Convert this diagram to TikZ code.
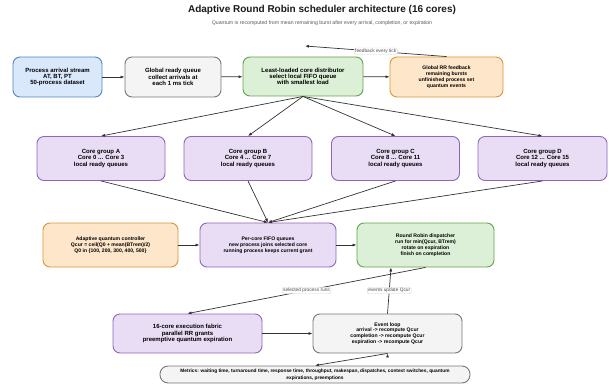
\documentclass[tikz,border=0pt]{standalone}
\usepackage{fontspec}
\setmainfont{Liberation Sans}
\usetikzlibrary{arrows.meta,calc}
\definecolor{blueFill}{HTML}{DAE8FC}
\definecolor{blueLine}{HTML}{4F86C2}
\definecolor{grayFill}{HTML}{F4F4F4}
\definecolor{grayLine}{HTML}{777777}
\definecolor{greenFill}{HTML}{DCEFD7}
\definecolor{greenLine}{HTML}{62A34E}
\definecolor{orangeFill}{HTML}{FDE6C9}
\definecolor{orangeLine}{HTML}{DD9535}
\definecolor{purpleFill}{HTML}{E8DDF4}
\definecolor{purpleLine}{HTML}{9067B8}
\definecolor{edgeCol}{HTML}{333333}
\tikzset{
  box/.style={draw, rounded corners=7pt, line width=0.9pt, align=center, inner sep=0pt,
    font=\fontsize{6}{6.3}\selectfont\bfseries},
  small/.style={font=\fontsize{5.1}{5.8}\selectfont\bfseries},
  srcbox/.style={box, fill=blueFill, draw=blueLine},
  graybox/.style={box, fill=grayFill, draw=grayLine},
  greenbox/.style={box, fill=greenFill, draw=greenLine},
  orangebox/.style={box, fill=orangeFill, draw=orangeLine},
  purplebox/.style={box, fill=purpleFill, draw=purpleLine},
  arr/.style={->, >={Latex[length=4pt,width=3pt]}, draw=edgeCol, line width=0.7pt},
  lbl/.style={fill=white, draw=gray!35, rounded corners=1.5pt, inner sep=1pt,
    line width=0.4pt, text=black!70, font=\fontsize{4.8}{5}\selectfont}
}
\begin{document}
\begin{tikzpicture}[x=1pt, y=-1pt]
\useasboundingbox (0,0) rectangle (609,385);
% title
\node[text=black!90] (title) at (322,10) {\fontsize{10}{11}\selectfont\bfseries Adaptive Round Robin scheduler architecture (16 cores)};
\node[text=black!65] (subtitle) at (322,23) {\fontsize{5.2}{5.5}\selectfont Quantum is recomputed from mean remaining burst after every arrival, completion, or expiration};
% top row
\node[srcbox, minimum width=89pt, minimum height=40pt] (src) at (57.5,77) {Process arrival stream\\AT, BT, PT\\50-process dataset};
\node[graybox, minimum width=96pt, minimum height=40pt] (gready) at (173,77) {Global ready queue\\collect arrivals at\\each 1 ms tick};
\node[greenbox, minimum width=120pt, minimum height=39pt] (dist) at (303,76.5) {Least-loaded core distributor\\select local FIFO queue\\with smallest load};
\node[orangebox, small, minimum width=113pt, minimum height=40pt] (fb) at (446.5,77) {Global RR feedback\\remaining bursts\\unfinished process set\\quantum events};
\coordinate (fbtip) at (305,46);
% core groups
\node[purplebox, minimum width=128pt, minimum height=44pt] (coreA) at (101,158.5) {Core group A\\Core 0 ... Core 3\\local ready queues};
\node[purplebox, minimum width=128pt, minimum height=44pt] (coreB) at (248,158.5) {Core group B\\Core 4 ... Core 7\\local ready queues};
\node[purplebox, minimum width=128pt, minimum height=44pt] (coreC) at (395.5,158.5) {Core group C\\Core 8 ... Core 11\\local ready queues};
\node[purplebox, minimum width=129pt, minimum height=44pt] (coreD) at (542.5,158.5) {Core group D\\Core 12 ... Core 15\\local ready queues};
% middle row
\node[orangebox, small, minimum width=135pt, minimum height=44pt] (ctrl) at (110.5,245) {Adaptive quantum controller\\Qcur = ceil(Q0 + mean(BTrem)/2)\\Q0 in \{100, 200, 300, 400, 500\}};
\node[purplebox, small, minimum width=136pt, minimum height=44pt] (fifo) at (268,245) {Per-core FIFO queues\\new process joins selected core\\running process keeps current grant};
\node[greenbox, small, minimum width=137pt, minimum height=44pt] (rr) at (425.5,245) {Round Robin dispatcher\\run for min(Qcur, BTrem)\\rotate on expiration\\finish on completion};
\coordinate (rrin) at ($(rr.south west)!0.25!(rr.south east)$);
% bottom rows
\node[purplebox, minimum width=149pt, minimum height=39pt] (fabric) at (187.5,333.5) {16-core execution fabric\\parallel RR grants\\preemptive quantum expiration};
\node[graybox, small, minimum width=149pt, minimum height=39pt] (evloop) at (387.5,333.5) {Event loop\\arrival -> recompute Qcur\\completion -> recompute Qcur\\expiration -> recompute Qcur};
\node[graybox, rounded corners=8pt, font=\fontsize{4.8}{6.8}\selectfont\bfseries, minimum width=310pt, minimum height=17pt] (metrics) at (315,374.5) {Metrics: waiting time, turnaround time, response time, throughput, makespan, dispatches, context switches, quantum\\expirations, preemptions};
% connectors
\path[arr]
  (src) edge (gready)
  (gready) edge (dist)
  (dist) edge (fb)
  (fb.north) edge node[lbl]{feedback every tick} (fbtip)
  (dist.south) edge (coreA.north) edge (coreB.north) edge (coreC.north) edge (coreD.north)
  (coreA.south) edge (fifo.north)
  (coreB.south) edge (fifo.north)
  (coreC.south) edge (fifo.north)
  (coreD.south) edge (fifo.north)
  (ctrl) edge (fifo)
  (fifo) edge (rr)
  (rr.south) edge node[lbl]{selected process runs} (fabric.north)
  (evloop.north) edge node[lbl]{events update Qcur} (rrin)
  (fabric) edge (evloop)
  (evloop.south) edge (metrics.north);
\end{tikzpicture}
\end{document}
